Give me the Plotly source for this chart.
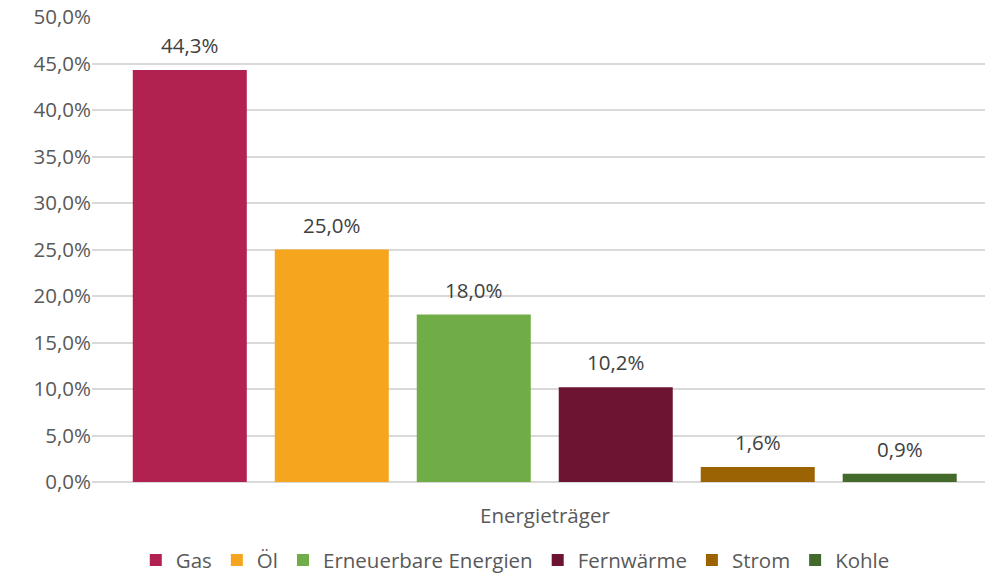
import plotly.graph_objects as go

category = ["Energieträger"]
series_names = ["Gas", "Öl", "Erneuerbare Energien", "Fernwärme", "Strom", "Kohle"]
series_values = [0.443, 0.250, 0.180, 0.102, 0.016, 0.009]
series_colors = ["#B22251", "#F5A51E", "#70AD47", "#6D1432", "#9C6304", "#436A2B"]
y_ticks = [0, 0.05, 0.10, 0.15, 0.20, 0.25, 0.30, 0.35, 0.40, 0.45, 0.50]

FONT = "Open Sans"
FS = 20.5
BARGAP = 0.046
BARGROUPGAP = 0.197

fig = go.Figure()
for name, val, col in zip(series_names, series_values, series_colors):
    fig.add_trace(go.Bar(
        x=category, y=[val], name=name,
        marker=dict(color=col, line=dict(width=0)),
        cliponaxis=False,
    ))

# data labels above each bar, positioned in data coordinates
n = len(series_values)
slot = (1 - BARGAP) / n
annotations = []
for i, val in enumerate(series_values):
    xc = -(1 - BARGAP) / 2 + slot * (i + 0.5)
    annotations.append(dict(
        x=xc, y=val, xref="x", yref="y", text=f"{val*100:.1f}%".replace(".", ","),
        showarrow=False, xanchor="center", yanchor="bottom", yshift=9,
        font=dict(family=FONT, size=FS, color="#404040")))

annotations.append(dict(text="Energieträger", xref="paper", yref="paper",
                        x=0.507, y=-0.071, xanchor="center", yanchor="middle",
                        showarrow=False,
                        font=dict(family=FONT, size=FS, color="#595959")))

fig.update_layout(
    width=985, height=576,
    margin=dict(l=92, r=0, t=17, b=94, autoexpand=False),
    paper_bgcolor="white", plot_bgcolor="white",
    separators=",.",
    barmode="group", bargap=BARGAP, bargroupgap=BARGROUPGAP,
    font=dict(family=FONT, size=FS, color="#595959"),
    showlegend=True,
    legend=dict(orientation="h", x=0.474, xanchor="center",
                yref="paper", y=-0.168, yanchor="middle",
                itemwidth=30,
                font=dict(family=FONT, size=FS, color="#595959"),
                itemsizing="constant", traceorder="normal"),
    xaxis=dict(range=[-0.507, 0.493], showticklabels=False, showgrid=False,
               zeroline=False, showline=False, ticks=""),
    yaxis=dict(range=[0, 0.5], tickvals=y_ticks, tickformat=".1%",
               showgrid=True, gridcolor="#D9D9D9", gridwidth=1.5,
               zeroline=True, zerolinecolor="#D9D9D9", zerolinewidth=1.5,
               showline=False, ticks="", ticklen=0,
               tickfont=dict(family=FONT, size=FS, color="#595959")),
    annotations=annotations,
)

fig.write_html("out.html")
